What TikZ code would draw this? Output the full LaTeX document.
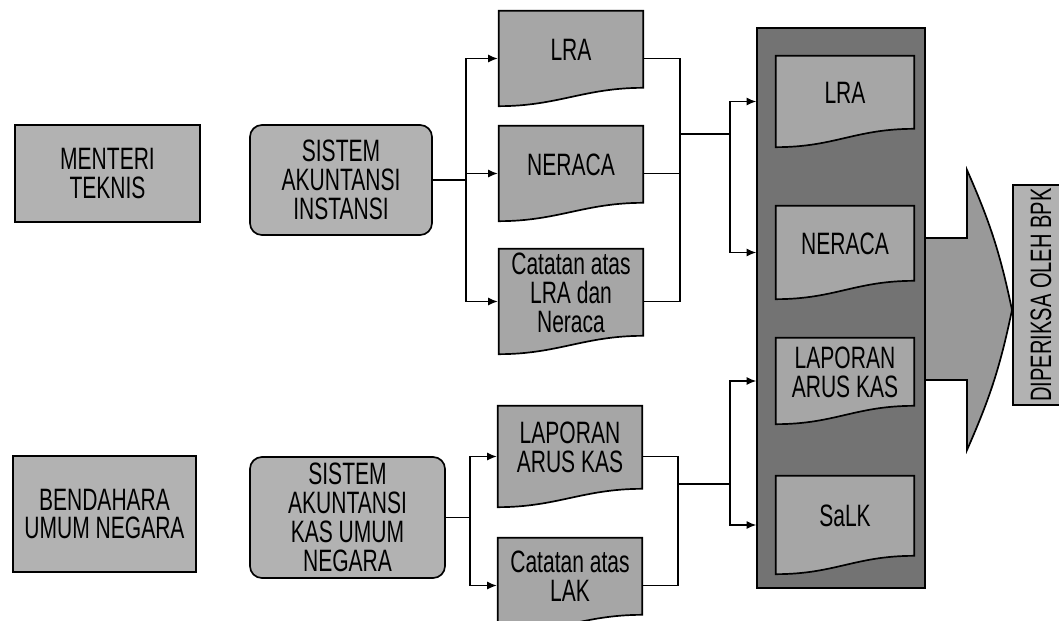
\documentclass[tikz,border=0pt]{standalone}
\usepackage{fontspec}
\setmainfont{Liberation Sans}[FakeStretch=0.68]
\usetikzlibrary{arrows.meta}

\begin{document}
\begin{tikzpicture}[x=0.025cm,y=-0.025cm,
    font=\fontsize{22}{20.5}\selectfont,
    >={Latex[length=2.4mm,width=2mm]},
    conn/.style={line width=0.8pt},
    box/.style={draw,line width=1.2pt,fill=black!30,align=center,inner sep=2pt},
    sysbox/.style={box,rounded corners=0.3cm},
    doc/.style={align=center,minimum width=3.65cm,minimum height=2.425cm,
      text depth=0.45cm,
      path picture={
        \filldraw[line width=1.2pt,fill=black!35]
          ([shift={(0.6pt,-0.6pt)}]path picture bounding box.north west)
          -- ([shift={(-0.6pt,-0.6pt)}]path picture bounding box.north east)
          -- ([shift={(-0.6pt,0.48cm)}]path picture bounding box.south east)
          .. controls ([shift={(-1.5cm,0.48cm)}]path picture bounding box.south east)
          and ([shift={(1.5cm,0.6pt)}]path picture bounding box.south west)
          .. ([shift={(0.6pt,0.6pt)}]path picture bounding box.south west)
          -- cycle;
      }},
    innerdoc/.style={doc,minimum width=3.5cm}]
    \useasboundingbox (0,0) rectangle (1059,620);

    \node[box,minimum width=4.625cm,minimum height=2.425cm] (menteri)
        at (107.5,173.5) {MENTERI\\TEKNIS};
    \node[sysbox,minimum width=4.55cm,minimum height=2.75cm] (sai)
        at (341,180) {SISTEM\\AKUNTANSI\\INSTANSI};
    \node[box,minimum width=4.575cm,minimum height=2.9cm] (bun)
        at (104.5,514) {BENDAHARA\\UMUM NEGARA};
    \node[sysbox,minimum width=4.875cm,minimum height=3.025cm] (sakun)
        at (347.5,517.5) {SISTEM\\AKUNTANSI\\KAS UMUM\\NEGARA};

    \node[doc] (lra) at (571,58.5) {LRA};
    \node[doc] (nrc) at (571,173.5) {NERACA};
    \node[doc,minimum height=2.675cm] (catlra) at (571,301.5)
        {Catatan atas\\LRA dan\\Neraca};
    \node[doc,minimum height=2.575cm] (lakd) at (570,456.5)
        {LAPORAN\\ARUS KAS};
    \node[doc] (catlak) at (570,585.5) {Catatan atas\\LAK};

    \fill[black!40,draw=black,line width=1.2pt] (925,238) -- (967,238)
        -- (967,170) to[bend left=6] (1012,310) to[bend left=6] (967,450)
        -- (967,380) -- (925,380);
    \node[box,fill=black!55,minimum width=4.2cm,minimum height=14cm] (lapkeu)
        at (841,308) {};
    \node[innerdoc,minimum height=2.325cm] (lra2) at (845,101.5) {LRA};
    \node[innerdoc,minimum height=2.375cm] (nrc2) at (845,252.5) {NERACA};
    \node[innerdoc,minimum height=2.2cm] (lak2) at (845,381)
        {LAPORAN\\ARUS KAS};
    \node[innerdoc,minimum height=2.5cm] (salk) at (845,525) {SaLK};

    \node[box,rotate=90,minimum width=5.5cm,minimum height=1.4cm,
        font=\fontsize{21}{18}\selectfont] (bpk)
        at (1041,295) {DIPERIKSA OLEH BPK};

    \coordinate (splitA) at (466,180);
    \coordinate (splitB) at (470,517.5);
    \coordinate (mergeA) at (680,134);
    \coordinate (mergeB) at (678,484);
    \coordinate (busA) at (730,134);
    \coordinate (busB) at (730,484);

    \draw[conn] (sai.east) -- (splitA);
    \draw[conn,->] (splitA) |- (lra.west);
    \draw[conn,->] (splitA) |- (nrc.west);
    \draw[conn,->] (splitA) |- (catlra.west);
    \draw[conn] (lra.east) -| (mergeA) |- (catlra.east);
    \draw[conn] (nrc.east) -- (nrc.east -| mergeA);
    \draw[conn] (mergeA) -- (busA);

    \draw[conn] (sakun.east) -- (splitB);
    \draw[conn,->] (splitB) |- (lakd.west);
    \draw[conn,->] (splitB) |- (catlak.west);
    \draw[conn] (lakd.east) -| (mergeB) |- (catlak.east);
    \draw[conn] (mergeB) -- (busB);

    \draw[conn,->] (busA) |- (lra2.west -| lapkeu.west);
    \draw[conn,->] (busA) |- (nrc2.west -| lapkeu.west);
    \draw[conn,->] (busB) |- (lak2.west -| lapkeu.west);
    \draw[conn,->] (busB) |- (salk.west -| lapkeu.west);
\end{tikzpicture}
\end{document}
